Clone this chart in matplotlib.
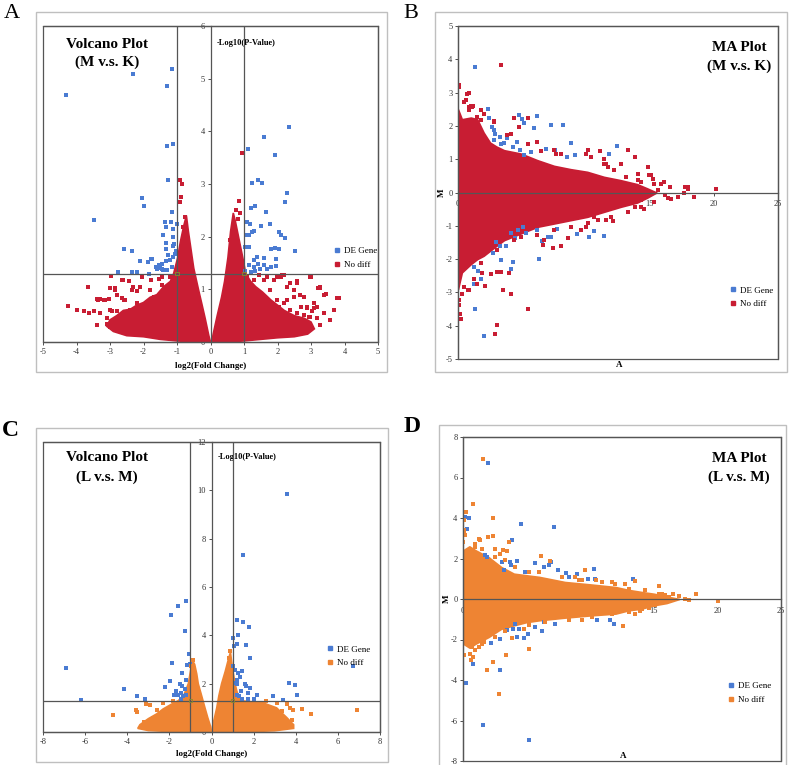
import matplotlib
matplotlib.use('Agg')
import matplotlib.pyplot as plt
from matplotlib.patches import Rectangle
from matplotlib.lines import Line2D

plt.rcParams['font.family'] = ['Liberation Serif', 'DejaVu Serif']
plt.rcParams['axes.unicode_minus'] = False

RED = '#C81D33'
ORANGE = '#EE8433'
BLUE = '#4A7BD2'
AXC = '#555555'

# threshold cut points (fold change +-1, p = 0.05)
cut_x = [-1, 1]
cut_y = [1.3, 1.3]

# ---------------- Panel A : Volcano (M v.s. K) ----------------
a_de_x = [-4.31, -2.30, -1.15, -1.31, -1.31, -1.11, -1.27, -2.05, -2.00, -3.48, -1.15, -1.37, -1.18, -1.01,
          -1.34, -1.13, -1.41, -1.11, -1.33, -1.33, -1.11, -2.57, -2.34, -1.78, -2.10, -1.61, -1.53, -1.44,
          -1.46, -1.21, -1.11, -1.06, -1.31, -1.16, -2.75, -2.35, -2.20, -1.83, -1.41, -1.63, -1.87, -1.76,
          -1.50, -1.32, -1.28, -1.02, -1.08,
          2.34, 1.59, 1.12, 1.93, 1.41, 1.53, 1.25, 2.28, 2.21, 1.34, 1.22, 1.65, 1.09, 1.19, 1.50, 1.79,
          1.24, 1.31, 1.14, 1.07, 2.03, 2.10, 2.23, 1.02, 1.14, 1.80, 1.93, 2.03, 2.52, 1.59, 1.39, 1.29,
          1.96, 1.14, 1.29, 1.41, 1.49, 1.68, 1.80, 1.96, 1.34, 1.21, 1.04, 1.59]
a_de_y = [4.69, 5.09, 5.18, 4.87, 3.73, 3.76, 3.07, 2.74, 2.59, 2.32, 2.46, 2.27, 2.28, 2.24,
          2.19, 2.15, 2.04, 2.00, 1.88, 1.76, 1.83, 1.77, 1.72, 1.58, 1.53, 1.39, 1.46, 1.49,
          1.39, 1.55, 1.62, 1.68, 1.36, 1.43, 1.33, 1.33, 1.33, 1.30, 1.36, 1.43, 1.52, 1.58,
          1.40, 1.53, 1.65, 1.72, 1.86,
          4.08, 3.89, 3.67, 3.55, 3.08, 3.02, 3.01, 2.83, 2.66, 2.59, 2.55, 2.46, 2.28, 2.24, 2.21, 2.25,
          2.08, 2.10, 2.03, 2.03, 2.08, 2.03, 1.98, 1.81, 1.81, 1.77, 1.79, 1.76, 1.72, 1.60, 1.62, 1.55,
          1.58, 1.46, 1.43, 1.48, 1.39, 1.39, 1.43, 1.44, 1.35, 1.33, 1.35, 1.46]
a_nd_x = [0.94, -0.91, -0.86, -0.87, -0.91, 0.85, 0.77, 0.87, 0.81, -0.76, 0.69, 0.59, -0.83, -0.79, -0.71,
          -0.86, -4.24, -3.99, -3.79, -3.62, -3.49, -3.29, -3.67, -3.39, -3.19, -3.04, -3.39, -2.97, -2.99,
          -2.84, -2.64, -2.44, -2.79, -2.59, -2.94, -2.69, -3.09, -2.04, -1.79, -2.09, -1.55, -2.34, -2.19,
          3.85, 3.01, 3.21, 3.27, 3.39, 3.44, 3.09, 3.19, 2.89, 2.69, 2.59, 2.49, 2.29, 2.19, 2.09, 1.89,
          1.69, 2.79, 2.94, 2.49, 2.29, 2.04, 1.30, 1.45, 1.60, 1.10, 3.69, 3.04,
          -3.40, -3.35, -3.30, -3.15, -3.00, -2.86, -3.00, -2.80, -2.60, -2.65, -2.55, -2.30, -2.20, -2.40,
          -2.20, -2.00, -2.70, -2.50, -2.05, -1.80, -1.70, -1.86, -1.60, -1.46, -1.41, -1.46, -1.21, -3.00,
          -2.80, -3.10, -2.30, -2.10, -1.90, -1.70,
          1.98, 2.13, 2.38, 2.58, 2.98, 3.28, 3.38, 3.78, 2.48, 2.68, 2.88, 3.08, 3.18, 2.38, 2.58, 1.78,
          1.58, 1.98, 2.18, 2.78, 2.98, 3.18, 3.38, 3.58, 2.38, 2.58, 2.78, 3.28]
a_nd_y = [3.59, 3.07, 3.00, 2.76, 2.66, 2.67, 2.51, 2.45, 2.34, 2.37, 2.19, 1.93, 2.19, 2.06, 1.93,
          1.81, 0.69, 0.61, 0.59, 0.56, 0.58, 0.55, 1.05, 0.82, 0.80, 0.82, 0.32, 1.25, 1.03,
          1.02, 1.18, 1.16, 0.89, 0.80, 0.58, 0.48, 0.45, 1.24, 1.18, 1.05, 1.20, 0.99, 0.74,
          0.84, 1.24, 1.03, 1.05, 0.89, 0.91, 0.75, 0.67, 0.64, 0.67, 1.12, 0.99, 1.05, 1.27, 1.24, 1.18,
          1.24, 0.86, 0.48, 0.42, 0.80, 0.67, 1.18, 1.27, 1.18, 1.24, 0.61, 0.58,
          0.32, 0.80, 0.81, 0.80, 1.02, 0.99, 0.61, 0.58, 1.18, 0.83, 0.80, 1.05, 0.96, 0.61,
          0.55, 0.51, 0.42, 0.39, 1.24, 0.99, 0.86, 0.74, 0.67, 1.08, 0.96, 1.24, 1.24, 0.29,
          0.26, 0.35, 0.29, 0.26, 0.20, 0.16,
          1.24, 1.27, 1.12, 1.15, 1.24, 1.02, 0.89, 0.83, 0.86, 0.89, 0.67, 0.64, 0.67, 0.61, 0.55, 0.99,
          0.86, 0.80, 0.74, 0.51, 0.48, 0.45, 0.55, 0.42, 0.39, 0.32, 0.29, 0.32]
# dense core outlines (x, y vertices)
a_core_left_x = [0.0, -0.5, -1.0, -1.5, -2.0, -2.5, -2.9, -3.1, -3.0, -2.8, -2.6, -2.4, -2.2, -2.0, -1.8,
                 -1.6, -1.4, -1.2, -1.1, -0.98, -0.9, -0.8, -0.72, -0.66, -0.58, -0.5, -0.36, -0.25, -0.16,
                 -0.05]
a_core_left_y = [0.0, 0.0, 0.02, 0.05, 0.1, 0.12, 0.2, 0.3, 0.42, 0.5, 0.6, 0.62, 0.7, 0.75, 0.85,
                 0.9, 1.05, 1.15, 1.3, 1.6, 1.9, 2.2, 2.4, 2.1, 1.75, 1.4, 1.0, 0.7, 0.45,
                 0.12]
a_core_right_x = [0.04, 0.5, 1.0, 1.5, 2.0, 2.5, 2.9, 3.1, 3.0, 2.8, 2.5, 2.2, 2.0, 1.8, 1.55, 1.35,
                  1.2, 1.05, 0.98, 0.9, 0.82, 0.74, 0.68, 0.6, 0.52, 0.42, 0.33, 0.2, 0.08]
a_core_right_y = [0.0, 0.0, 0.02, 0.05, 0.08, 0.1, 0.15, 0.25, 0.38, 0.45, 0.5, 0.6, 0.7, 0.8, 0.95, 1.05,
                  1.15, 1.3, 1.55, 1.8, 2.05, 2.3, 2.45, 2.1, 1.6, 1.15, 0.85, 0.5, 0.15]

# ---------------- Panel B : MA (M v.s. K) ----------------
b_de_x = [1.36, 2.38, 2.43, 2.69, 2.82, 2.87, 4.73, 4.99, 5.17, 6.14, 5.95, 7.26, 8.17, 3.79, 3.26, 3.34,
          4.60, 8.83, 12.43, 11.83, 6.87, 7.57, 8.51, 9.16, 4.86, 5.12, 5.69, 4.26, 2.82, 3.60,
          1.25, 1.57, 1.83, 1.25, 1.31, 2.04, 2.77, 3.29, 3.73, 3.39, 4.13, 4.26, 6.29, 6.53, 7.05, 7.26,
          7.70, 9.29, 10.26, 10.60, 11.44, 4.44, 4.70, 5.04, 5.30, 6.21, 2.95, 4.13]
b_de_y = [3.78, 2.52, 2.25, 1.97, 1.87, 1.77, 2.34, 2.22, 2.09, 2.29, 1.94, 2.02, 2.04, 1.65, 1.67, 1.47,
          1.52, 1.50, 1.39, 1.15, 1.30, 1.27, 1.07, 1.12, 1.27, 1.12, 1.22, 1.37, 1.57, 1.49,
          -2.23, -2.36, -2.59, -2.76, -3.49, -4.32, -1.83, -1.60, -1.60, -2.03, -2.31, -2.08, -1.99, -1.45,
          -1.33, -1.33, -1.11, -1.26, -1.35, -1.16, -1.31, -1.38, -1.13, -1.03, -1.23, -1.13, -1.48, -1.23]
b_nd_x = [3.39, 0.08, 0.10, 0.84, 0.60, 1.04, 1.20, 0.86, 4.39, 5.43, 4.78, 2.82, 2.04, 1.83, 5.43, 6.48,
          7.65, 10.00, 11.12, 11.38, 11.44, 15.04, 16.08, 17.96, 20.13, 18.43, 17.65, 17.18, 16.66, 16.14,
          15.61, 14.57, 13.79, 13.26, 14.31, 12.09, 11.57, 10.65, 10.00, 9.61, 8.56, 8.04, 7.39, 6.74, 6.61,
          3.99, 3.55, 4.13, 5.43, 3.08, 2.87, 2.11, 2.56, 3.08, 3.39, 0.08, 0.10, 0.16, 0.21, 0.34, 0.47,
          0.78, 0.86, 1.25, 1.51, 1.91, 13.26, 13.79, 14.83, 11.70, 12.74, 14.30, 15.35, 14.05,
          0.73, 0.47, 0.86, 1.12, 1.51, 1.78, 2.82, 3.86, 4.13, 4.78, 6.21, 7.52, 8.04, 10.13, 10.39, 11.44,
          11.57, 12.22, 13.13, 14.05, 14.96, 15.22, 15.87, 16.53, 17.70, 17.96,
          1.25, 1.78, 3.08, 4.39, 4.91, 6.21, 7.52, 8.83, 10.13, 10.91, 11.96, 13.26, 14.31, 15.35, 16.40]
b_nd_y = [3.83, 3.23, 3.16, 3.00, 2.78, 2.60, 2.60, 2.47, 2.24, 2.23, 1.97, 2.15, 2.37, 2.47, 1.47, 1.25,
          1.15, 1.15, 1.25, 1.02, 0.87, 0.52, 0.32, 0.17, 0.12, -0.13, 0.00, -0.13, -0.21, -0.08,
          0.07, -0.51, -0.43, -0.28, -0.23, -0.85, -0.83, -0.73, -1.03, -1.13, -1.38, -1.61, -1.68, -1.43, -1.58,
          -2.43, -2.94, -3.04, -3.49, -3.99, -4.24, -2.82, -2.44, -2.38, -2.38, -3.24, -3.39, -3.64, -3.79, -3.04,
          -2.84, -2.92, -2.94, -2.59, -2.74, -2.41, 1.27, 1.07, 0.77, 0.77, 0.87, 0.32, 0.27, 0.57,
          2.97, 2.72, 2.57, 2.57, 2.27, 2.17, 2.12, 1.72, 1.77, 1.97, 1.52, 1.27, 1.17, 1.27, 1.07, 1.02,
          0.87, 0.67, 0.47, 0.37, 0.52, 0.42, 0.27, 0.17, 0.17, 0.12,
          -1.93, -2.13, -1.73, -1.43, -1.33, -1.28, -1.13, -1.03, -0.93, -0.83, -0.73, -0.58, -0.43, -0.28, -0.18]
b_core_x = [0.0, 0.3, 1.0, 1.5, 2.0, 2.5, 3.0, 3.6, 4.9, 6.2, 7.5, 8.8, 10.1, 11.4, 12.7, 14.0, 14.8, 15.5]
b_core_hi = [2.5, 2.2, 2.25, 2.2, 1.8, 1.5, 1.38, 1.27, 1.17, 0.97, 0.8, 0.7, 0.62, 0.47, 0.37, 0.25, 0.12, 0.0]
b_core_lo = [-2.9, -2.4, -2.15, -2.0, -1.9, -1.75, -1.6, -1.43, -1.23, -1.03, -0.93, -0.83, -0.73, -0.58,
             -0.43, -0.3, -0.15, 0.0]

# ---------------- Panel C : Volcano (L v.s. M) ----------------
c_de_x = [3.57, 1.51, -1.22, -1.58, -1.93, -1.27, 1.22, 1.51, 1.76, 1.00, 1.25, 1.09, 1.22, 1.66, 1.85,
          -1.09, -1.03, -1.14, -6.93, -1.87, 1.03, 1.11, 1.27, 1.35, 1.19, 1.22, 1.11, 1.47, -1.98, -2.19,
          -1.51, -1.38, -1.70, -1.43, -1.58, -1.27, -1.22, -1.38, 1.58, 1.66, 1.85, 1.74, 1.38, 3.69, 3.96,
          4.07, -4.17, -3.53, -3.17, -6.21, 2.90, 3.41, 6.70, 2.14, 2.01, 1.74, 1.19, 1.32, 1.43, -1.19,
          -1.35, -1.43, -1.79]
c_de_y = [9.84, 7.34, 5.44, 5.22, 4.85, 4.16, 4.62, 4.55, 4.34, 3.89, 4.01, 3.55, 3.64, 3.60, 3.08,
          3.24, 2.83, 2.79, 2.65, 2.85, 2.72, 2.58, 2.45, 2.27, 2.17, 1.97, 2.03, 2.52, 2.10, 1.87,
          1.97, 1.90, 1.69, 1.62, 1.55, 1.76, 2.17, 2.45, 1.97, 1.92, 1.81, 1.62, 1.69, 2.01, 1.95,
          1.55, 1.76, 1.48, 1.35, 1.32, 1.48, 1.32, 2.75, 1.53, 1.35, 1.37, 1.55, 1.48, 1.35, 1.55,
          1.48, 1.35, 1.55]
c_nd_x = [-4.68, -3.60, -3.53, -3.22, -3.09, -2.93, -2.30, -1.82, 0.87, 0.84, -0.87, -0.95, 3.88, 4.28,
          4.71, 3.84, 6.89, 3.57, 3.72, 3.33, 2.93, 2.61, 2.46, 3.09, -2.61, -2.14, -2.77, 2.30, 2.77, 3.25]
c_nd_y = [0.70, 0.93, 0.84, 0.41, 1.14, 1.11, 1.18, 1.28, 3.34, 3.07, 3.00, 2.72, 0.93, 0.96,
          0.76, 0.49, 0.93, 1.14, 1.00, 0.87, 0.80, 1.28, 1.14, 1.21, 0.93, 0.80, 0.59, 0.93, 0.59, 0.38]
c_core_left_x = [0.0, -1.0, -2.0, -3.0, -3.5, -3.4, -3.0, -2.6, -2.3, -1.9, -1.57, -1.3, -1.1, -1.0, -0.9,
                 -0.8, -0.7, -0.63, -0.5, -0.31, -0.18, -0.07, -0.02]
c_core_left_y = [0.0, 0.0, 0.02, 0.06, 0.15, 0.3, 0.55, 0.75, 0.95, 1.15, 1.3, 1.55, 2.0, 2.5, 2.95,
                 2.8, 2.4, 2.0, 1.6, 1.0, 0.6, 0.3, 0.1]
c_core_right_x = [0.02, 1.0, 2.0, 3.0, 3.9, 3.9, 3.57, 3.09, 2.46, 1.35, 1.2, 1.12, 1.0, 0.9, 0.8, 0.65,
                  0.48, 0.35, 0.25, 0.12, 0.05]
c_core_right_y = [0.0, 0.0, 0.02, 0.05, 0.15, 0.3, 0.6, 1.0, 1.2, 1.3, 1.7, 2.0, 2.6, 3.3, 3.0, 2.5,
                  2.0, 1.5, 1.0, 0.5, 0.25]

# ---------------- Panel D : MA (L v.s. M) ----------------
d_de_x = [1.97, 0.18, 0.45, 0.31, 4.56, 7.13, 3.85, 1.76, 1.91, 3.67, 3.80, 4.25, 3.07, 5.63, 6.34, 6.73,
          6.94, 7.44, 8.10, 8.36, 8.96, 10.27, 9.83, 10.40, 13.36, 10.53, 11.58, 11.84, 6.21, 6.34, 7.26,
          5.11, 4.77, 4.25, 3.90, 3.46, 4.38, 4.11, 2.91, 2.20, 0.81, 2.93, 0.26, 1.57, 5.21, 5.69, 3.20, 4.90]
d_de_y = [6.70, 4.05, 3.98, 3.44, 3.69, 3.56, 2.90, 2.16, 2.07, 1.83, 1.66, 1.88, 1.83, 1.78, 1.58, 1.66,
          1.83, 1.42, 1.28, 1.09, 1.22, 1.48, 1.00, 0.99, 0.99, -1.02, -1.05, -1.22, -1.58, -1.14, -1.22,
          -1.71, -1.93, -1.88, -1.47, -1.51, -1.47, -1.22, -1.96, -2.17, -3.21, -3.52, -4.15, -6.22, -6.95,
          -1.38, 1.42, 1.33]
d_nd_x = [1.57, 0.81, 0.26, 0.05, 2.33, 0.10, 0.05, 0.18, 0.00, 1.94, 2.33, 1.23, 0.97, 1.36, 3.59, 6.16,
          6.87, 2.54, 2.94, 3.12, 3.46, 9.62, 10.48, 12.71, 13.55, 15.38, 16.48, 16.95, 18.32, 17.48, 17.74,
          20.05, 13.94, 12.60, 14.86, 14.60, 0.05, 0.66, 0.79, 0.58, 1.89, 2.33, 3.41, 2.80, 5.16, 3.85,
          4.82, 2.02, 1.62, 1.23, 0.97, 8.83, 9.36, 11.71, 13.02, 15.64, 16.17, 13.02, 13.55, 9.36, 8.31, 7.26,
          0.97, 1.49, 2.54, 3.33, 4.11, 5.16, 5.95, 7.78, 9.09, 10.93, 11.98, 13.02, 14.33, 15.38, 15.91,
          0.71, 1.49, 2.54, 3.33, 5.16, 6.47, 8.31, 10.14, 11.71, 13.02, 14.07, 15.12]
d_nd_y = [6.90, 4.71, 4.28, 3.88, 4.00, 3.42, 3.23, 3.14, 2.81, 3.06, 3.09, 2.98, 2.73, 2.90, 2.81, 2.11,
          1.88, 2.49, 2.24, 2.40, 2.37, 1.42, 0.95, 0.76, 0.89, 0.66, 0.26, 0.13, 0.25, -0.02, -0.03,
          -0.12, -0.59, -1.35, -0.26, -0.44, -2.78, -3.00, -2.86, -2.70, -3.49, -3.11, -2.78, -4.67, -2.45, -1.91,
          -1.47, -1.79, -2.12, -2.37, -2.53, 1.09, 0.92, 0.84, 0.51, 0.26, 0.10, -0.56, -0.72, -1.05, -0.97, -0.89,
          2.57, 2.49, 2.07, 1.91, 1.58, 1.33, 1.33, 1.09, 0.92, 0.84, 0.72, 0.51, 0.43, 0.26, 0.18,
          -2.37, -2.20, -1.88, -1.58, -1.30, -1.14, -1.02, -0.89, -0.72, -0.64, -0.48, -0.31]
d_core_x = [0.0, 0.5, 1.0, 2.0, 3.0, 4.0, 5.0, 6.0, 8.0, 10.0, 12.0, 13.0, 14.0, 15.0, 16.0, 17.0]
d_core_hi = [2.4, 2.6, 2.4, 2.07, 1.58, 1.25, 1.17, 1.09, 0.84, 0.72, 0.59, 0.45, 0.35, 0.26, 0.13, 0.0]
d_core_lo = [-2.2, -2.4, -2.2, -1.88, -1.47, -1.3, -1.14, -1.05, -0.92, -0.81, -0.72, -0.56, -0.48, -0.31,
             -0.2, 0.0]

W, H = 789, 765
fig = plt.figure(figsize=(W / 100, H / 100), dpi=100)


def px_axes(x0, y0, x1, y1):
    return fig.add_axes([x0 / W, 1 - y1 / H, (x1 - x0) / W, (y1 - y0) / H])


def frame(x0, y0, x1, y1):
    fig.patches.append(Rectangle((x0 / W, 1 - y1 / H), (x1 - x0) / W, (y1 - y0) / H,
                                 transform=fig.transFigure, fill=False, ec='#BFBFBF', lw=1.0))


def box(ax):
    ax.add_patch(Rectangle((0, 0), 1, 1, transform=ax.transAxes, fill=False, ec=AXC, lw=0.9,
                           clip_on=False, zorder=5))
    for s in ax.spines.values():
        s.set_color(AXC)
        s.set_linewidth(0.9)
    ax.tick_params(direction='out', length=2.5, width=0.6, labelsize=6, pad=1.5, colors='#333333')


def scatter(ax, x, y, c, z=3):
    return ax.scatter(x, y, s=6, marker='s', c=c, linewidths=0, zorder=z)


def legend(ax, nd_color, x, y):
    h = [Line2D([], [], ls='', marker='s', ms=2.5, mfc=BLUE, mec=BLUE),
         Line2D([], [], ls='', marker='s', ms=2.5, mfc=nd_color, mec=nd_color)]
    ax.legend(h, ['DE Gene', 'No diff'], loc='center left', bbox_to_anchor=(x, y), frameon=False,
              fontsize=6.5, handlelength=0.6, handletextpad=0.5, labelspacing=0.55, borderpad=0,
              borderaxespad=0)


def volcano(ax, de_x, de_y, nd_x, nd_y, cores, color, xlim, xticks, ylim, yticks, title, lx, ly,
            ty1, ty2, hy):
    for cx, cy in cores:
        ax.fill(cx, cy, color=color, lw=1.2, ec=color, zorder=2)
    scatter(ax, de_x, de_y, BLUE)
    scatter(ax, nd_x, nd_y, color)
    ax.axvline(-1, color=AXC, lw=0.9, zorder=4)
    ax.axvline(1, color=AXC, lw=0.9, zorder=4)
    ax.axhline(1.3, color=AXC, lw=0.9, zorder=4)
    ax.scatter(cut_x, cut_y, s=5, marker='s', facecolors='none', edgecolors='#8A8A2A', linewidths=0.6,
               zorder=6)
    ax.set_xlim(*xlim)
    ax.set_ylim(*ylim)
    ax.set_xticks(xticks)
    ax.set_yticks(yticks)
    ax.spines['left'].set_position(('data', 0))
    ax.spines['left'].set_zorder(4)
    box(ax)
    ax.text(0.19, ty1, 'Volcano Plot', transform=ax.transAxes, ha='center', va='center',
            fontsize=11, fontweight='bold')
    ax.text(0.19, ty2, title, transform=ax.transAxes, ha='center', va='center',
            fontsize=11, fontweight='bold')
    ax.text(0.606, hy, '-Log10(P-Value)', transform=ax.transAxes, ha='center', va='center',
            fontsize=6, fontweight='bold')
    ax.text(0.5, -0.075, 'log2(Fold Change)', transform=ax.transAxes, ha='center', va='center',
            fontsize=6.5, fontweight='bold')
    legend(ax, color, lx, ly)


def maplot(ax, de_x, de_y, nd_x, nd_y, core, color, ylim, yticks, title, lx, ly, tx, ty1, ty2, ay):
    cx, hi, lo = core
    ax.fill_between(cx, lo, hi, color=color, lw=1.2, ec=color, zorder=2)
    scatter(ax, de_x, de_y, BLUE)
    scatter(ax, nd_x, nd_y, color)
    ax.set_xlim(0, 25)
    ax.set_ylim(*ylim)
    ax.set_xticks([0, 5, 10, 15, 20, 25])
    ax.set_yticks(yticks)
    ax.spines['bottom'].set_position(('data', 0))
    ax.spines['bottom'].set_zorder(4)
    box(ax)
    ax.tick_params(axis='x', pad=3)
    ax.text(tx, ty1, 'MA Plot', transform=ax.transAxes, ha='center', va='center',
            fontsize=11, fontweight='bold')
    ax.text(tx, ty2, title, transform=ax.transAxes, ha='center', va='center',
            fontsize=11, fontweight='bold')
    ax.text(-0.05, 0.5, 'M', transform=ax.transAxes, ha='center', va='center', rotation=90,
            fontsize=6.5, fontweight='bold')
    ax.text(0.503, ay, 'A', transform=ax.transAxes, ha='center', va='center',
            fontsize=6.5, fontweight='bold')
    legend(ax, color, lx, ly)


# outer frames
frame(36, 12, 387, 372)
frame(435, 12, 787, 372)
frame(36, 428, 388, 762)
frame(439, 425, 786, 775)

axA = px_axes(43, 26, 378, 342)
volcano(axA, a_de_x, a_de_y, a_nd_x, a_nd_y,
        [(a_core_left_x, a_core_left_y), (a_core_right_x, a_core_right_y)], RED,
        (-5, 5), range(-5, 6), (0, 6), range(0, 7), '(M v.s. K)', 0.869, 0.266, 0.943, 0.886, 0.946)

axB = px_axes(458, 26, 778, 359)
maplot(axB, b_de_x, b_de_y, b_nd_x, b_nd_y, (b_core_x, b_core_hi, b_core_lo), RED,
       (-5, 5), range(-5, 6), '(M v.s. K)', 0.851, 0.186, 0.878, 0.934, 0.88, -0.018)

axC = px_axes(43, 442, 380, 732)
volcano(axC, c_de_x, c_de_y, c_nd_x, c_nd_y,
        [(c_core_left_x, c_core_left_y), (c_core_right_x, c_core_right_y)], ORANGE,
        (-8, 8), range(-8, 9, 2), (0, 12), range(0, 13, 2), '(L v.s. M)', 0.844, 0.262, 0.945, 0.879,
        0.948)

axD = px_axes(463, 437, 781, 761)
maplot(axD, d_de_x, d_de_y, d_nd_x, d_nd_y, (d_core_x, d_core_hi, d_core_lo), ORANGE,
       (-8, 8), range(-8, 9, 2), '(L v.s. M)', 0.834, 0.21, 0.868, 0.935, 0.877, 0.015)

# panel letters
fig.text(12 / W, 1 - 14 / H, 'A', ha='center', va='center', fontsize=16)
fig.text(411 / W, 1 - 14 / H, 'B', ha='center', va='center', fontsize=16)
fig.text(10 / W, 1 - 430 / H, 'C', ha='center', va='center', fontsize=17, fontweight='bold')
fig.text(412 / W, 1 - 427 / H, 'D', ha='center', va='center', fontsize=17, fontweight='bold')

fig.savefig('out.png', dpi=100)
